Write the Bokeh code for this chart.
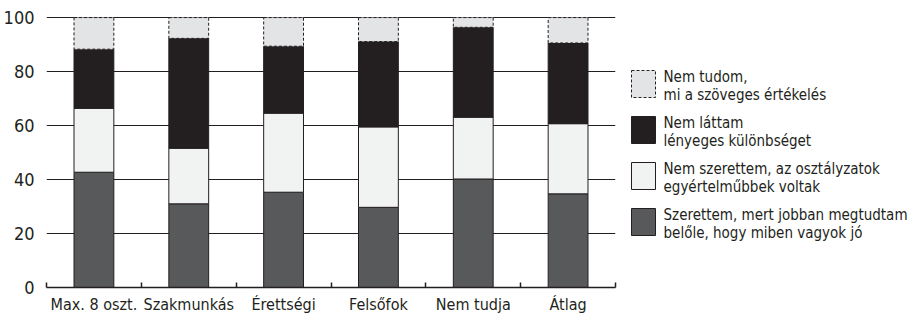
from bokeh.plotting import figure
from bokeh.layouts import row
from bokeh.models import Range1d, FixedTicker, ColumnDataSource
from bokeh.core.properties import value
from bokeh.embed import file_html
from bokeh.resources import INLINE

categories = ["Max. 8 oszt.", "Szakmunkás", "Érettségi", "Felsőfok", "Nem tudja", "Átlag"]
szerettem = [42.7, 31.0, 35.3, 29.7, 40.2, 34.7]
nem_szerettem = [23.7, 20.6, 29.3, 29.8, 22.9, 26.0]
nem_lattam = [21.9, 40.7, 24.8, 31.6, 33.3, 29.9]
nem_tudom = [11.7, 7.7, 10.6, 8.9, 3.6, 9.4]
y_ticks = [0, 20, 40, 60, 80, 100]

legend_labels = [
    "Nem tudom,\nmi a szöveges értékelés",
    "Nem láttam\nlényeges különbséget",
    "Nem szerettem, az osztályzatok\negyértelműbbek voltak",
    "Szerettem, mert jobban megtudtam\nbelőle, hogy miben vagyok jó",
]
colors = ["#e3e4e5", "#231f20", "#f1f2f2", "#58595b"]
stack_colors = ["#58595b", "#f1f2f2", "#231f20", "#e3e4e5"]

FONT = "'DejaVu Sans Condensed', 'Liberation Sans Narrow', 'Roboto Condensed', Roboto, sans-serif"
INK = "#231f20"

centers = [i + 0.5 for i in range(len(categories))]
bounds = [float(i) for i in range(len(categories) + 1)]

src = ColumnDataSource(dict(x=centers, s1=szerettem, s2=nem_szerettem,
                            s3=nem_lattam, s4=nem_tudom))

TOP, FH, BOT = 16, 271, 24
W1 = 618
p = figure(frame_width=569, frame_height=FH,
           output_backend="svg", toolbar_location=None,
           x_range=Range1d(0, len(categories)), y_range=Range1d(0, 100.4),
           min_border_left=44, min_border_right=5, min_border_top=TOP,
           min_border_bottom=BOT)
p.outline_line_color = None

rs = p.vbar_stack(["s1", "s2", "s3", "s4"], x="x", width=0.42, source=src,
                  fill_color=stack_colors, line_color=INK, line_width=1)
rs[3].glyph.line_dash = "3 2"

p.xaxis.ticker = FixedTicker(ticks=centers, minor_ticks=bounds)
p.xaxis.major_label_overrides = {c: lab for c, lab in zip(centers, categories)}
p.xaxis.major_tick_in = 0
p.xaxis.major_tick_out = 0
p.xaxis.minor_tick_in = 5
p.xaxis.minor_tick_out = 0
p.xaxis.minor_tick_line_color = INK
p.xaxis.minor_tick_line_width = 1.5
p.xaxis.axis_line_color = INK
p.xaxis.axis_line_width = 1.5
p.xaxis.major_label_text_font = FONT
p.xaxis.major_label_text_font_size = "16px"
p.xaxis.major_label_text_color = INK
p.xaxis.major_label_standoff = 7

p.yaxis.ticker = FixedTicker(ticks=y_ticks)
p.yaxis.axis_line_color = None
p.yaxis.major_tick_line_color = None
p.yaxis.minor_tick_line_color = None
p.yaxis.major_label_text_font = FONT
p.yaxis.major_label_text_font_size = "18px"
p.yaxis.major_label_text_color = INK
p.yaxis.major_label_standoff = 6

p.xgrid.grid_line_color = None
p.ygrid.ticker = FixedTicker(ticks=y_ticks)
p.ygrid.grid_line_color = INK
p.ygrid.grid_line_width = 1

# legend panel: frame aligned with the chart frame, coordinates in page pixels
lw = 293
leg = figure(frame_width=lw, frame_height=FH,
             output_backend="svg", toolbar_location=None,
             x_range=Range1d(W1, W1 + lw), y_range=Range1d(TOP + FH, TOP),
             x_axis_location=None, y_axis_location=None,
             min_border_left=0, min_border_right=0,
             min_border_top=TOP, min_border_bottom=BOT)
leg.outline_line_color = None
leg.grid.visible = False

tops = [70, 116, 162, 208]
sw_h = 27
for i, (lab, col) in enumerate(zip(legend_labels, colors)):
    t = tops[i]
    leg.quad(left=629, right=653, top=t, bottom=t + sw_h, fill_color=col,
             line_color=INK, line_width=1,
             line_dash="3 2" if i == 0 else "solid")
    leg.text(x=[661], y=[t + sw_h / 2 + 2], text=[lab],
             text_font=value(FONT), text_font_size="15px", text_color=INK,
             text_baseline="middle", text_align="left", text_line_height=1.05)

layout = row(p, leg, spacing=0)
open("out.html", "w").write(file_html(layout, INLINE))
